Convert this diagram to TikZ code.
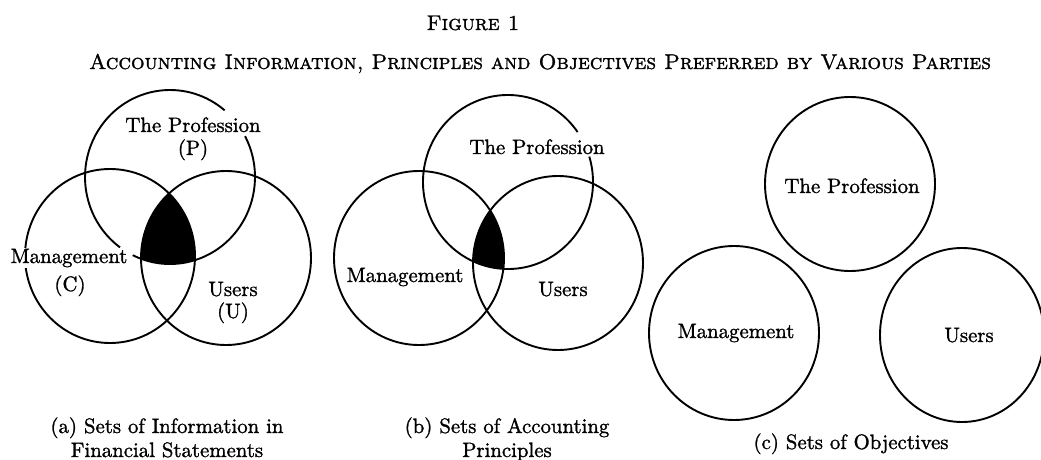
\documentclass[tikz,border=0pt]{standalone}
\usepackage{fontspec}
\newfontfamily\heavy{lmroman10-regular.otf}[FakeBold=1.3,
  SmallCapsFont=lmromancaps10-regular.otf, SmallCapsFeatures={FakeBold=1.3}]
\begin{document}
\begin{tikzpicture}[x=1pt,y=1pt,
  ring/.style={line width=1.9pt},
  setfill/.style={fill=black},
  lbl/.style={font=\fontsize{20.8}{24}\heavy, anchor=base, inner sep=0pt},
  ttl/.style={font=\fontsize{21.3}{24}\heavy\scshape, anchor=base, inner sep=0pt}]
\useasboundingbox (0,0) rectangle (1041,459);

% titles
\node[ttl] (fig) at (473,429) {Figure 1};
\node[ttl] (sub) at (540,390) {Accounting Information, Principles and Objectives Preferred by Various Parties};

% ---------- (a) information ----------
\coordinate (aP) at (170,282);
\coordinate (aC) at (110,203);
\coordinate (aU) at (226,201);
\begin{scope}
  \clip (aC) ellipse [x radius=85, y radius=87];
  \clip (aU) ellipse [x radius=85, y radius=87];
  \fill[setfill] (aP) ellipse [x radius=85, y radius=87];
\end{scope}
\draw[ring] (aC) ellipse [x radius=85, y radius=87];
\draw[ring] (aU) ellipse [x radius=85, y radius=87];
\draw[ring] (aP) ++(50:85 and 87) arc[start angle=50, end angle=234, x radius=85, y radius=87];
\draw[ring] (aP) ++(244:85 and 87) arc[start angle=244, end angle=388, x radius=85, y radius=87];
\node[lbl] (aPt) at (193,327) {The Profession};
\node[lbl] (aPs) at (193,304) {(P)};
\node[lbl, fill=white, inner sep=1pt] (aCt) at (69,196) {Management};
\node[lbl] (aCs) at (70,168) {(C)};
\node[lbl] (aUt) at (233,163) {Users};
\node[lbl] (aUs) at (233,141) {(U)};
\node[lbl] (aCap1) at (167,26) {(a) Sets of Information in};
\node[lbl] (aCap2) at (167,2) {Financial Statements};

% ---------- (b) principles ----------
\coordinate (bP) at (508,277);
\coordinate (bC) at (419,201);
\coordinate (bU) at (558,196);
\begin{scope}
  \clip (bC) ellipse [x radius=85, y radius=87];
  \clip (bU) ellipse [x radius=85, y radius=87];
  \fill[setfill] (bP) ellipse [x radius=85, y radius=87];
\end{scope}
\draw[ring] (bC) ellipse [x radius=85, y radius=87];
\draw[ring] (bU) ellipse [x radius=85, y radius=87];
\draw[ring] (bP) ++(35:85 and 87) arc[start angle=35, end angle=377, x radius=85, y radius=87];
\node[lbl] (bPt) at (537,305) {The Profession};
\node[lbl] (bCt) at (405,177) {Management};
\node[lbl] (bUt) at (563,163) {Users};
\node[lbl] (bCap1) at (507,26) {(b) Sets of Accounting};
\node[lbl] (bCap2) at (507,2) {Principles};

% ---------- (c) objectives ----------
\coordinate (cP) at (850,275);
\coordinate (cC) at (734,126);
\coordinate (cU) at (962,124);
\draw[ring] (cP) ellipse [x radius=85, y radius=87];
\draw[ring] (cC) ellipse [x radius=85, y radius=87];
\draw[ring] (cU) ellipse [x radius=82, y radius=87];
\node[lbl] (cPt) at (852,266) {The Profession};
\node[lbl] (cCt) at (736,121) {Management};
\node[lbl] (cUt) at (969,117) {Users};
\node[lbl] (cCap) at (851,10) {(c) Sets of Objectives};
\end{tikzpicture}
\end{document}
